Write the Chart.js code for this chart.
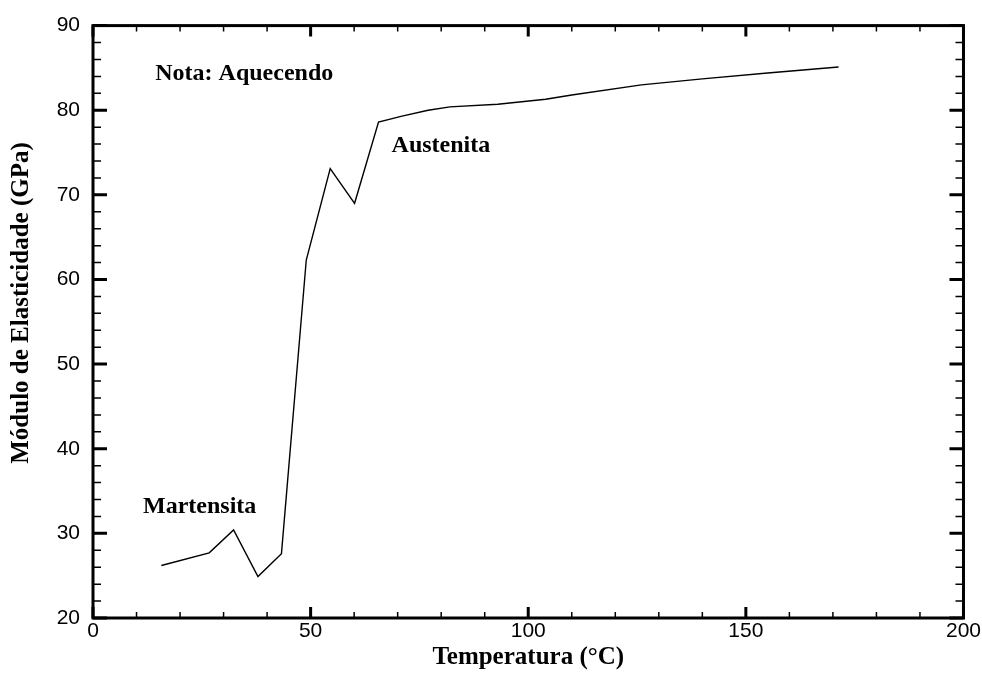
<!DOCTYPE html>
<html lang="pt">
<head>
<meta charset="utf-8">
<script src="https://cdn.jsdelivr.net/npm/chart.js"></script>
<style>
  html, body { margin: 0; padding: 0; background: #fff; }
  #wrap { width: 982px; height: 673px; }
</style>
</head>
<body>
<div id="wrap"><canvas id="chart" width="982" height="673"></canvas></div>
<script>
// temperature (°C) and elastic modulus (GPa)
const temperatura = [15.7, 26.7, 32.3, 37.9, 43.3, 49.0, 54.5, 60.1, 65.6, 71, 77, 82, 93, 104, 110, 126, 140, 155, 171.3];
const modulo      = [26.2, 27.7, 30.4, 24.9, 27.6, 62.3, 73.1, 69.0, 78.6, 79.3, 80.0, 80.4, 80.7, 81.3, 81.8, 83.0, 83.7, 84.4, 85.1];

const xLabels = [0, 50, 100, 150, 200];
const yLabels = [20, 30, 40, 50, 60, 70, 80, 90];

// text notes placed in data units (left edge, baseline)
const notas = [
  { texto: 'Nota: Aquecendo', x: 14.3, y: 83.6 },
  { texto: 'Martensita', x: 11.5, y: 32.4 },
  { texto: 'Austenita', x: 68.6, y: 75.1 }
];

const serif = '"Liberation Serif", "Times New Roman", serif';

const framePlugin = {
  id: 'frame',
  afterDraw(chart) {
    const { ctx, chartArea: a, scales } = chart;
    ctx.save();
    ctx.strokeStyle = '#000';
    // inward ticks on all four sides
    scales.x.ticks.forEach(t => {
      const px = scales.x.getPixelForValue(t.value);
      const major = xLabels.includes(t.value);
      const len = major ? 11 : 6;
      ctx.lineWidth = major ? 3 : 1.5;
      ctx.beginPath();
      ctx.moveTo(px, a.bottom); ctx.lineTo(px, a.bottom - len);
      ctx.moveTo(px, a.top); ctx.lineTo(px, a.top + len);
      ctx.stroke();
    });
    scales.y.ticks.forEach(t => {
      const py = scales.y.getPixelForValue(t.value);
      const major = yLabels.includes(t.value);
      const len = major ? 14 : 8;
      ctx.lineWidth = major ? 3 : 1.5;
      ctx.beginPath();
      ctx.moveTo(a.left, py); ctx.lineTo(a.left + len, py);
      ctx.moveTo(a.right, py); ctx.lineTo(a.right - len, py);
      ctx.stroke();
    });
    ctx.lineWidth = 3;
    ctx.strokeRect(a.left, a.top, a.right - a.left, a.bottom - a.top);

    ctx.fillStyle = '#000';
    ctx.font = 'bold 24px ' + serif;
    ctx.textBaseline = 'alphabetic';
    notas.forEach(n => {
      ctx.fillText(n.texto, scales.x.getPixelForValue(n.x), scales.y.getPixelForValue(n.y));
    });

    // y axis title
    ctx.font = 'bold 25px ' + serif;
    ctx.textAlign = 'center';
    ctx.textBaseline = 'middle';
    ctx.translate(22, 303);
    ctx.rotate(-Math.PI / 2);
    ctx.fillText('Módulo de Elasticidade (GPa)', 0, 0);
    ctx.restore();
  }
};

new Chart(document.getElementById('chart'), {
  type: 'scatter',
  data: {
    datasets: [{
      data: temperatura.map((t, i) => ({ x: t, y: modulo[i] })),
      showLine: true,
      borderColor: '#000',
      borderWidth: 1.4,
      pointRadius: 0,
      tension: 0
    }]
  },
  options: {
    responsive: false,
    animation: false,
    layout: { padding: { top: 21, right: 16, left: 0, bottom: 0 } },
    plugins: { legend: { display: false }, tooltip: { enabled: false } },
    scales: {
      x: {
        type: 'linear',
        min: 0, max: 200,
        afterFit(s) { s.height = 55; },
        grid: { display: false, drawTicks: false },
        border: { display: false },
        ticks: {
          stepSize: 10,
          autoSkip: false,
          maxRotation: 0,
          padding: 1,
          color: '#000',
          font: { family: '"Liberation Sans", Arial, sans-serif', size: 21 },
          callback: v => xLabels.includes(v) ? String(v) : ''
        },
        title: {
          display: true,
          text: 'Temperatura (°C)',
          color: '#000',
          font: { family: serif, size: 25, weight: 'bold' },
          padding: { top: 0, bottom: 0 }
        }
      },
      y: {
        type: 'linear',
        min: 20, max: 90,
        afterFit(s) { s.width = 93; },
        grid: { display: false, drawTicks: false },
        border: { display: false },
        ticks: {
          stepSize: 2,
          autoSkip: false,
          padding: 13,
          color: '#000',
          font: { family: '"Liberation Sans", Arial, sans-serif', size: 21 },
          callback: v => yLabels.includes(v) ? String(v) : ''
        }
      }
    }
  },
  plugins: [framePlugin]
});
</script>
</body>
</html>
